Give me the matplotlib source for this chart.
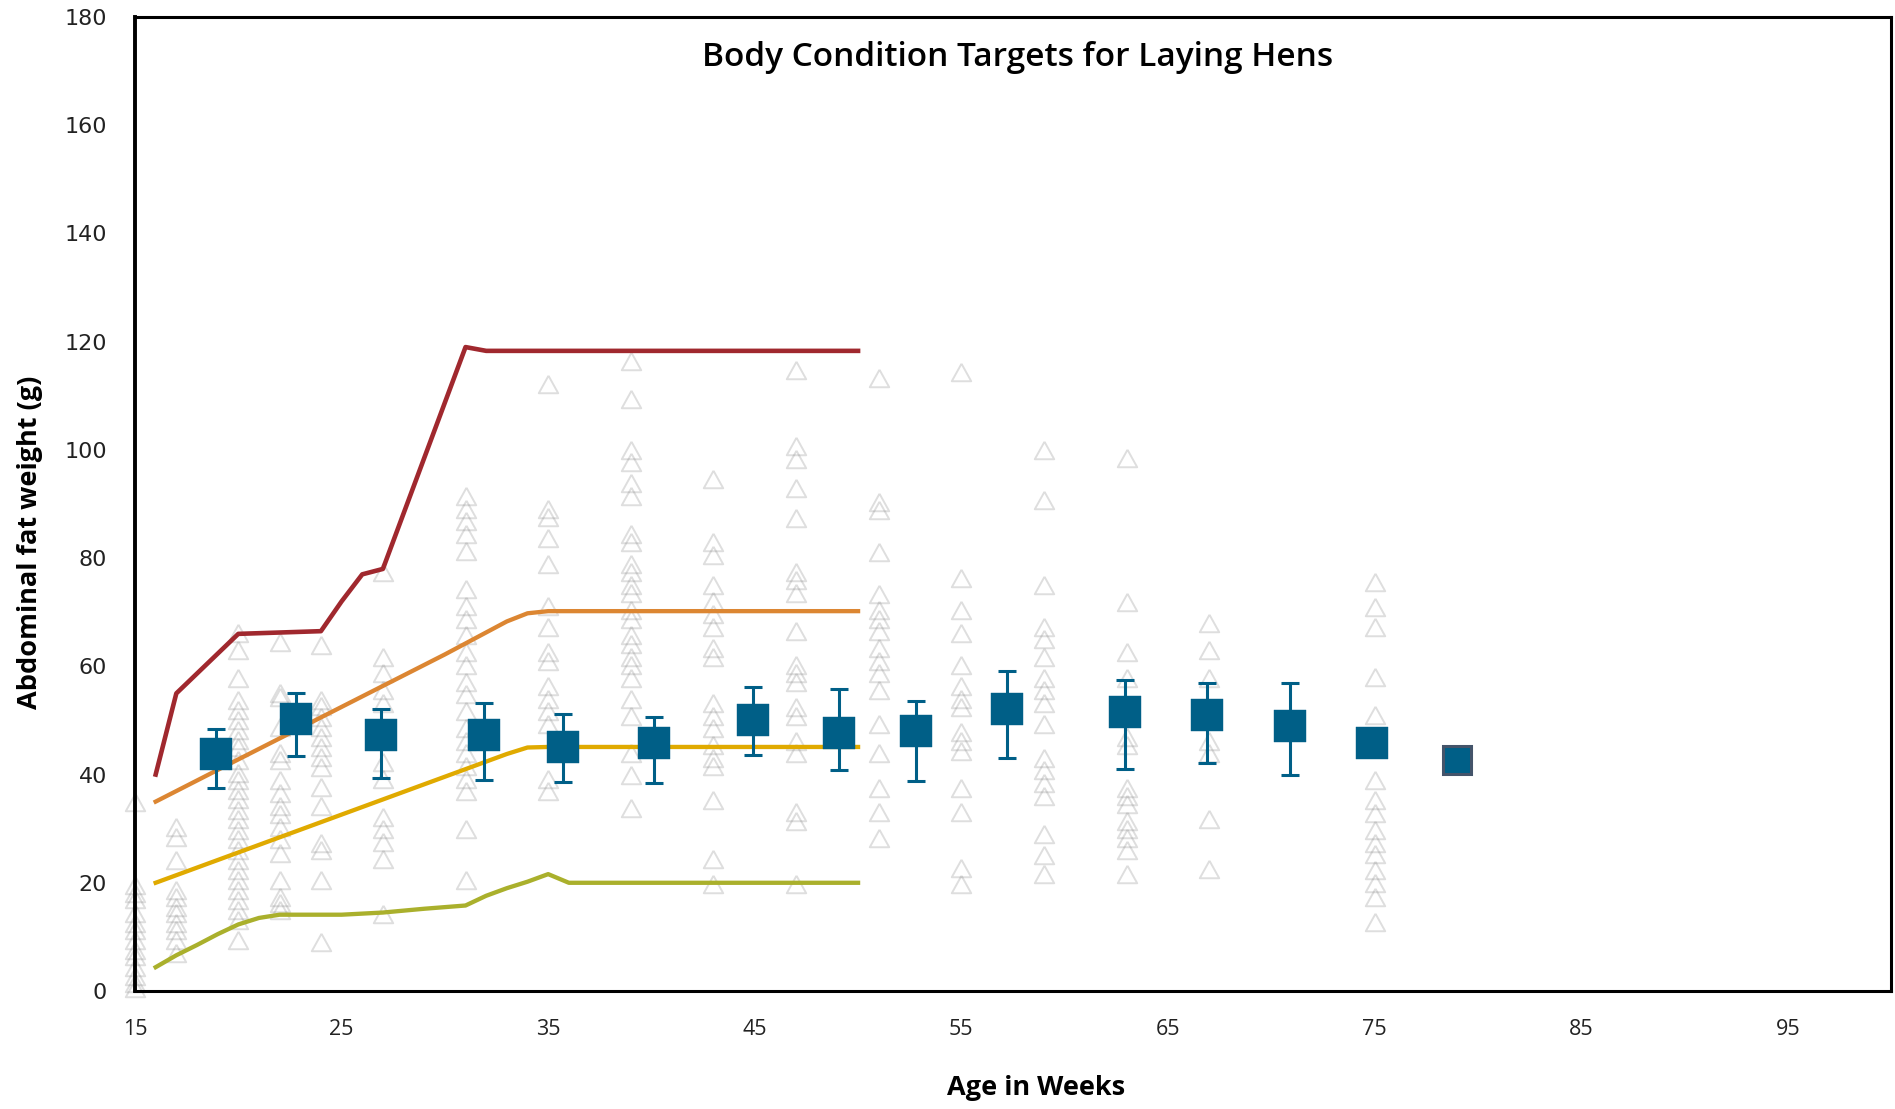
import matplotlib
matplotlib.use("Agg")
import matplotlib.pyplot as plt
import numpy as np

# individual hen observations (abdominal fat, g) by age in weeks
obs_weeks = [15, 17, 20, 22, 24, 27, 31, 35, 39, 43, 47, 51, 55, 59, 63, 67, 75]
fat_wk15 = [35, 19.6, 18.1, 17, 14.4, 12.5, 11.3, 9.5, 7.6, 6.4, 4.5, 2.7, 1.5, 0.5]
fat_wk17 = [30.4, 28.5, 24.2, 18.6, 17.4, 15.6, 14.4, 12.5, 11.3, 9.5, 7.0]
fat_wk20 = [66.1, 63.0, 57.8, 53.8, 52.0, 50.0, 48.2, 46.4, 45.1, 42.7, 40.3, 39.0, 37.2, 35.4,
            33.5, 31.7, 29.8, 28.0, 26.1, 24.2, 22.4, 20.5, 18.6, 16.8, 14.9, 13.1, 9.4]
fat_wk22 = [64.5, 55.0, 54.4, 48.8, 43.9, 42.7, 39.0, 36.5, 34.1, 32.8, 30.4, 28.0, 25.5, 20.5,
            17.4, 16.2, 14.9]
fat_wk24 = [63.9, 53.8, 52.6, 50.7, 48.8, 47.0, 45.1, 43.3, 41.4, 37.7, 34.1, 27.3, 26.1, 20.5, 9.1]
fat_wk27 = [77.4, 61.8, 58.7, 55.6, 53.3, 42.4, 39.2, 32.2, 29.9, 27.5, 24.4, 14.3]
fat_wk31 = [91.4, 89.1, 86.8, 84.4, 81.3, 74.3, 71.2, 68.8, 65.7, 62.6, 60.3, 57.1, 54.8, 51.7,
            48.6, 46.2, 43.9, 41.6, 39.2, 36.9, 29.9, 20.5]
fat_wk35 = [112.1, 89.1, 87.6, 83.7, 79.0, 71.2, 67.3, 62.6, 61.0, 56.3, 54.0, 51.7, 49.4, 39.2, 36.9]
fat_wk39 = [116.4, 109.4, 100.0, 97.7, 93.8, 91.4, 84.4, 82.9, 78.9, 77.4, 75.1, 73.5, 70.4, 68.8,
            65.7, 64.1, 61.8, 60.3, 57.9, 54.0, 50.9, 43.9, 40.0, 33.8]
fat_wk43 = [94.6, 82.9, 80.5, 75.1, 72.0, 69.6, 67.3, 63.4, 61.8, 53.3, 50.9, 48.6, 45.5, 43.1,
            41.6, 35.3, 24.4, 19.7]
fat_wk47 = [114.8, 100.8, 98.4, 93.0, 87.5, 77.4, 75.9, 73.5, 66.5, 60.3, 58.7, 57.1, 52.5, 50.9,
            46.2, 43.9, 33.0, 31.4, 19.7]
fat_wk51 = [113.3, 90.3, 88.8, 81.1, 73.3, 70.4, 68.8, 66.5, 63.4, 61.0, 58.7, 55.6, 49.4, 43.9,
            37.6, 33.0, 28.3]
fat_wk55 = [114.4, 76.3, 70.4, 66.1, 60.3, 56.4, 54.0, 52.5, 47.8, 46.2, 44.3, 37.6, 33.0, 22.8, 19.7]
fat_wk59 = [100.0, 90.7, 75.1, 67.3, 65.0, 61.8, 57.9, 55.6, 53.3, 49.4, 43.1, 40.8, 38.4, 36.1,
            29.1, 25.2, 21.7]
fat_wk63 = [98.5, 71.9, 62.6, 57.9, 47.0, 45.5, 37.6, 36.1, 34.5, 31.4, 29.9, 28.3, 26.0, 21.7]
fat_wk67 = [68.1, 63.0, 57.9, 46.2, 43.9, 31.8, 22.5]
fat_wk75 = [75.6, 71.0, 67.3, 58.1, 51.0, 39.0, 35.3, 32.9, 29.8, 27.3, 25.4, 22.4, 19.9, 17.4, 12.8]

obs_fat = [fat_wk15, fat_wk17, fat_wk20, fat_wk22, fat_wk24, fat_wk27, fat_wk31, fat_wk35,
           fat_wk39, fat_wk43, fat_wk47, fat_wk51, fat_wk55, fat_wk59, fat_wk63, fat_wk67, fat_wk75]

# flock means with error bars
mean_age = [18.9, 22.8, 26.9, 31.9, 35.7, 40.1, 44.9, 49.1, 52.8, 57.2, 62.9, 66.9, 70.9, 74.9, 79.0]
mean_fat = [43.8, 50.2, 47.4, 47.4, 45.1, 45.8, 50.0, 47.7, 48.0, 52.1, 51.6, 51.0, 48.9, 45.9, 42.6]
err_high = [48.5, 55.0, 52.1, 53.2, 51.2, 50.7, 56.2, 55.9, 53.6, 59.1, 57.5, 56.9, 56.9, np.nan, np.nan]
err_low = [37.5, 43.4, 39.4, 39.0, 38.6, 38.4, 43.7, 40.9, 38.8, 43.1, 41.0, 42.2, 39.9, np.nan, np.nan]

# target bands
max_weeks = [16, 17, 20, 24, 25, 26, 27, 31, 32, 50]
max_fat = [40, 55, 66, 66.5, 72, 77, 78, 119, 118.3, 118.3]
upper_weeks = [16, 20, 25, 30, 33, 34, 35, 50]
upper_fat = [35, 42.8, 52.5, 62.2, 68.3, 69.8, 70.2, 70.2]
lower_weeks = [16, 20, 25, 30, 33, 34, 35, 50]
lower_fat = [20, 25.6, 32.6, 39.6, 43.8, 45, 45.1, 45.1]
min_weeks = [16, 17, 18, 19, 20, 21, 22, 25, 27, 29, 31, 32, 33, 34, 35, 36, 50]
min_fat = [4.4, 6.6, 8.5, 10.5, 12.3, 13.5, 14.1, 14.1, 14.5, 15.2, 15.8, 17.6, 19.0, 20.2, 21.6, 20.0, 20.0]

BLUE = "#005F87"

fig = plt.figure(figsize=(18.95, 11.09), dpi=100)
ax = fig.add_axes([135 / 1895, 1 - 991 / 1109, (1891 - 135) / 1895, (991 - 17) / 1109])

tri = [(0, 0.9), (-1, -0.9), (1, -0.9), (0, 0.9)]
for wk, vals in zip(obs_weeks, obs_fat):
    ax.plot([wk] * len(vals), vals, linestyle="none", marker=tri, markersize=14,
            markerfacecolor="none", markeredgecolor="#808080", markeredgewidth=1.4,
            alpha=0.26, clip_on=False, zorder=1)

ax.plot(max_weeks, max_fat, color="#A0282E", lw=3.3, zorder=3, solid_joinstyle="round")
ax.plot(upper_weeks, upper_fat, color="#DC8632", lw=3.1, zorder=3)
ax.plot(lower_weeks, lower_fat, color="#E0AA00", lw=3.1, zorder=3)
ax.plot(min_weeks, min_fat, color="#AAB02C", lw=3.1, zorder=3)

mean_arr = np.array(mean_fat)
yerr = [mean_arr - np.array(err_low), np.array(err_high) - mean_arr]
ax.errorbar(mean_age, mean_fat, yerr=yerr, fmt="none", ecolor=BLUE,
            elinewidth=2.2, capsize=6.5, capthick=2.2, zorder=4)
ax.plot(mean_age[:-1], mean_fat[:-1], "s", color=BLUE, markersize=23,
        markeredgecolor=BLUE, markeredgewidth=0.3, zorder=5)
ax.plot(mean_age[-1:], mean_fat[-1:], "s", color=BLUE, markersize=20.5,
        markeredgecolor="#44546A", markeredgewidth=2.2, zorder=5)

ax.set_xlim(15, 100)
ax.set_ylim(0, 180)
ax.set_xticks(np.arange(15, 100, 10))
ax.set_yticks(np.arange(0, 181, 20))
for s in ax.spines.values():
    s.set_linewidth(2.2)
    s.set_zorder(6)
ax.spines["left"].set_linewidth(2.8)
ax.tick_params(axis="both", length=0)
ax.tick_params(axis="y", pad=20, labelsize=16, colors="#222222")
ax.tick_params(axis="x", pad=20, labelsize=15.5, colors="#222222")
for lab in ax.get_xticklabels():
    lab.set_fontfamily("Open Sans")

fig.text(1018 / 1895, 1 - 57 / 1109, "Body Condition Targets for Laying Hens",
         ha="center", va="center", fontsize=24, fontfamily="Open Sans", fontweight="semibold")
fig.text(30 / 1895, 1 - 542 / 1109, "Abdominal fat weight (g)", rotation=90,
         ha="center", va="center", fontsize=19.5, fontfamily="Open Sans", fontweight="bold")
fig.text(1036 / 1895, 1 - 1088 / 1109, "Age in Weeks",
         ha="center", va="center", fontsize=19.5, fontfamily="Open Sans", fontweight="bold")

fig.savefig("out.png", dpi=100)
